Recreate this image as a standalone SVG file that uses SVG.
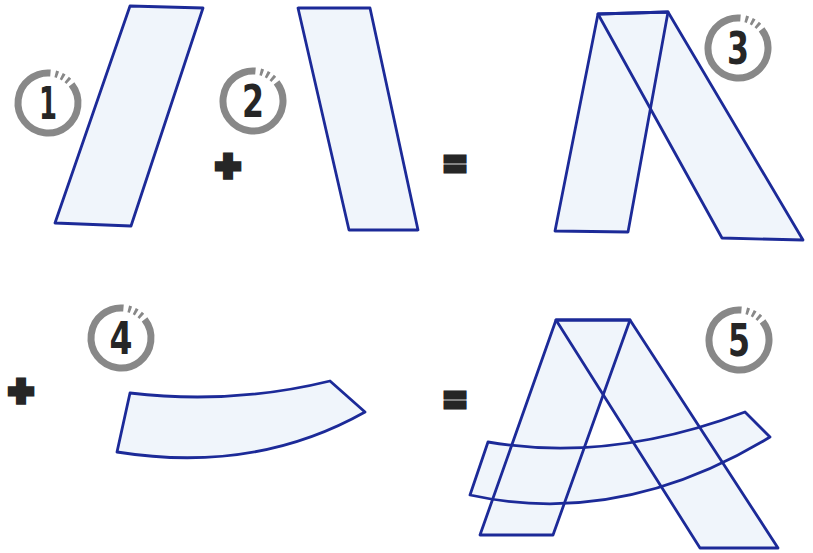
<svg xmlns="http://www.w3.org/2000/svg" width="813" height="553" viewBox="0 0 813 553">
<style>
.bg{fill:#ffffff}
.fill{fill:#f0f5fb;stroke:none}
.line{fill:none;stroke:#1c2a98;stroke-width:2.8;stroke-linejoin:round}
.ring{fill:none;stroke:#888888;stroke-width:7;stroke-dasharray:163.5 4.8 2.8 3.6 2.8 3.6 2.8 4.2}
.num{font-family:"DejaVu Sans Condensed","DejaVu Sans","Liberation Sans",sans-serif;font-weight:bold;font-size:44px;fill:#262626;text-anchor:middle}
.op{font-family:"Liberation Sans","DejaVu Sans",sans-serif;font-weight:bold;fill:#262626;stroke:#262626;text-anchor:middle;stroke-linejoin:miter}
.plus{font-size:42px;stroke-width:5.5}
.eq{font-size:36px;stroke-width:5}
</style>
<defs>
<g id="ringShape"><circle r="30" class="ring" transform="rotate(-38)"/></g>
</defs>
<rect class="bg" x="0" y="0" width="813" height="553"/>

<g id="shape1">
<polygon class="fill" points="130,6 203,8 131,226 55,223"/>
<polygon class="line" points="130,6 203,8 131,226 55,223"/>
</g>
<g id="shape2">
<polygon class="fill" points="298,8 370,8 418,230 349,230"/>
<polygon class="line" points="298,8 370,8 418,230 349,230"/>
</g>
<g id="shape3">
<polygon class="fill" points="598,14 668,12 628,232 555,231"/>
<polygon class="fill" points="598,14 668,12 803,240 722,238"/>
<polygon class="line" points="598,14 668,12 628,232 555,231"/>
<polygon class="line" points="598,14 668,12 803,240 722,238"/>
</g>
<g id="shape4">
<path class="fill" d="M130,393 Q232,405 330,381 L365,412 Q255,474 117,452 Z"/>
<path class="line" d="M130,393 Q232,405 330,381 L365,412 Q255,474 117,452 Z"/>
</g>
<g id="shape5">
<polygon class="fill" points="556,320 630,320 553,535 480,535"/>
<polygon class="fill" points="556,320 630,320 778,548 700,548"/>
<path class="fill" d="M488,442 Q610,463 745,412 L770,437 Q620,528 470,495 Z"/>
<polygon class="line" points="556,320 630,320 553,535 480,535"/>
<polygon class="line" points="556,320 630,320 778,548 700,548"/>
<path class="line" d="M488,442 Q610,463 745,412 L770,437 Q620,528 470,495 Z"/>
</g>

<g id="badge1"><use href="#ringShape" transform="translate(48,103)"/><text class="num" x="48" y="119" textLength="18" lengthAdjust="spacingAndGlyphs">1</text></g>
<g id="badge2"><use href="#ringShape" transform="translate(253,101)"/><text class="num" x="253" y="117" textLength="22" lengthAdjust="spacingAndGlyphs">2</text></g>
<g id="badge3"><use href="#ringShape" transform="translate(738,48)"/><text class="num" x="738" y="64" textLength="22" lengthAdjust="spacingAndGlyphs">3</text></g>
<g id="badge4"><use href="#ringShape" transform="translate(121,338)"/><text class="num" x="121" y="354" textLength="23" lengthAdjust="spacingAndGlyphs">4</text></g>
<g id="badge5"><use href="#ringShape" transform="translate(739,340)"/><text class="num" x="739" y="356" textLength="22" lengthAdjust="spacingAndGlyphs">5</text></g>

<g id="plus1"><text class="op plus" x="228" y="180">+</text></g>
<g id="equals1"><text class="op eq" x="455" y="177">=</text></g>
<g id="plus2"><text class="op plus" x="21" y="405">+</text></g>
<g id="equals2"><text class="op eq" x="455" y="413">=</text></g>
</svg>
